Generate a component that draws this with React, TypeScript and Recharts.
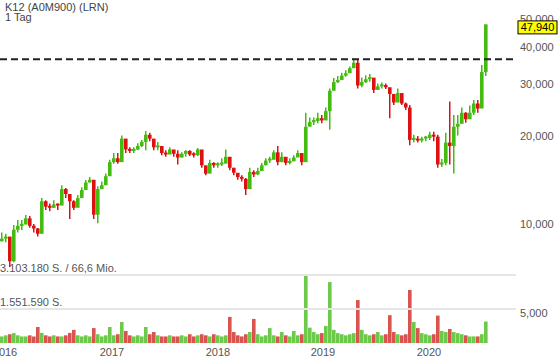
import React from "react";
import { ComposedChart, Bar, Cell, XAxis, YAxis, ReferenceLine } from "recharts";

// roughly two-week periods, Dec 2015 - Jul 2020
const highs = [
  9400, 9300, 8860, 9960, 10360, 10360, 10770, 10700, 10050, 9730,
  12300, 12100, 11800, 12100, 11800, 13600, 13300, 12600, 12100, 12600,
  13400, 14170, 14500, 14000, 13500, 14000, 14900, 16600, 17500, 17500,
  20100, 18600, 18300, 18300, 18900, 19400, 20800, 20500, 19400, 19100,
  18200, 17900, 18300, 17900, 17900, 17600, 17900, 17900, 17600, 18200,
  16700, 15700, 16600, 16300, 16300, 16800, 18000, 16600, 15600, 14900,
  14700, 14400, 15600, 15300, 15600, 16200, 16800, 17000, 17900, 18500,
  17600, 16800, 16800, 17200, 17900, 17000, 24000, 23100, 23100, 24000,
  23600, 25000, 29000, 31500, 32000, 32800, 33500, 34500, 36600, 36300,
  31600, 32200, 32500, 31000, 30200, 30400, 30200, 29000, 27600, 29000,
  27000, 26000, 25500, 20200, 20000, 19900, 20000, 20700, 20700, 20200,
  16700, 20500, 26200, 23600, 23600, 25000, 24100, 25400, 26500, 26500,
  34900, 47940,
];
const lows = [
  8750, 8700, 7170, 7450, 9400, 9580, 10100, 9750, 9400, 9100,
  10300, 11200, 11100, 11400, 11200, 12100, 12300, 10450, 11200, 11500,
  12300, 13400, 13900, 10450, 10100, 13400, 13800, 15300, 16100, 16100,
  17900, 17500, 17500, 17500, 17900, 18300, 17900, 19200, 17900, 17900,
  17200, 17000, 17500, 17000, 16000, 16900, 17000, 17100, 16900, 17100,
  15600, 14700, 15800, 15600, 15600, 15800, 16200, 15300, 14700, 14200,
  14000, 12600, 13500, 14500, 14700, 15600, 15900, 16200, 17200, 15900,
  16600, 15900, 16000, 16600, 17200, 15900, 16600, 21800, 21800, 22100,
  22100, 23100, 21000, 29800, 30300, 31500, 31800, 32800, 34500, 29000,
  29300, 30300, 30600, 28000, 28700, 29000, 28900, 23000, 25500, 26500,
  25500, 24500, 18600, 19000, 19000, 19000, 19200, 19400, 19200, 15600,
  15700, 15900, 16000, 14900, 20100, 22200, 22200, 23000, 23600, 24000,
  25500, 32000,
];
const closes = [
  8950, 9100, 7500, 9600, 9900, 10000, 10500, 9900, 9700, 9300,
  12000, 11500, 11400, 11700, 11600, 13200, 12700, 12000, 11400, 12300,
  13100, 13900, 14200, 10800, 13200, 13600, 14600, 16300, 16800, 16300,
  19600, 18000, 17800, 18000, 18500, 19100, 20200, 19600, 18300, 18500,
  17500, 17300, 18000, 17400, 16900, 17400, 17800, 17300, 17200, 18000,
  15900, 14900, 16200, 15900, 16000, 16100, 17000, 15600, 15000, 14500,
  14300, 13200, 15100, 14800, 15200, 15900, 16500, 16600, 17600, 16300,
  17000, 16200, 16400, 16900, 17500, 16300, 21500, 22300, 22500, 23000,
  22600, 24300, 28500, 30500, 31000, 32100, 32700, 34000, 35500, 29700,
  30500, 31200, 31600, 28700, 29500, 29800, 29300, 27800, 26000, 28000,
  25800, 25000, 19400, 19500, 19300, 19600, 19700, 20200, 19900, 16000,
  16200, 19000, 18500, 21500, 22000, 24000, 22800, 24000, 25800, 24800,
  33000, 47940,
];
// thousand shares
const volumes = [
  300, 350, 400, 450, 350, 300, 300, 350, 300, 730,
  460, 350, 300, 350, 300, 300, 350, 460, 600, 350,
  300, 350, 300, 680, 400, 300, 350, 730, 350, 400,
  960, 550, 350, 300, 350, 300, 730, 400, 500, 350,
  300, 300, 350, 300, 300, 350, 300, 400, 300, 350,
  400, 350, 300, 400, 350, 300, 350, 1190, 500, 350,
  300, 400, 500, 1100, 400, 300, 350, 680, 350, 300,
  500, 350, 300, 550, 350, 400, 3103, 700, 500, 400,
  450, 780, 2780, 600, 450, 400, 350, 400, 450, 1960,
  600, 400, 350, 400, 500, 350, 400, 1270, 500, 400,
  350, 400, 2420, 960, 680, 450, 400, 350, 400, 1250,
  550, 500, 640, 500, 450, 400, 350, 300, 300, 300,
  400, 980,
];

const years = ["2016", "2017", "2018", "2019", "2020"];
const yearPos = [0.75, 27.5, 54, 80.25, 106.75];
const priceTicks = [5000, 10000, 20000, 30000, 40000, 50000];
const lastPrice = 47940;
const resistance = 36460;
const volLines = [3103180, 1551590];
const volLabels = ["3.103.180 S. / 66,6 Mio.", "1.551.590 S."];

const UP = "#44bb11";
const DOWN = "#dd1111";
const VOL_UP = "#6cc94a";
const VOL_DOWN = "#d9534f";
const FONT = "'Liberation Sans', Arial, sans-serif";
const X_DOMAIN = [-0.5, 128.5];
const P_DOMAIN = [3955, 58022];

const data = closes.map((c, i) => {
  const open = i === 0 ? c * 0.98 : closes[i - 1];
  return {
    i,
    wick: [lows[i], highs[i]],
    body: [Math.min(open, c), Math.max(open, c)],
    vol: volumes[i] * 1000,
    up: c >= open,
  };
});

const fmt = (v: number) => v.toLocaleString("en-US");

const PriceTag = (props: any) => {
  const { viewBox } = props;
  const x = viewBox.x + viewBox.width + 2;
  const y = viewBox.y;
  return (
    <g>
      <rect x={x} y={y - 3.5} width={39} height={13} fill="#ffff00" stroke="#000" />
      <text x={x + 19.5} y={y + 7} textAnchor="middle" fontSize={11} fontFamily={FONT} fill="#000">
        {fmt(lastPrice)}
      </text>
    </g>
  );
};

const VolLabel = (props: any) => (
  <text x={0} y={props.viewBox.y - 3} fontSize={11} fontFamily={FONT} fill="#555">
    {props.text}
  </text>
);

const layer: React.CSSProperties = { position: "absolute", left: 0, top: 0 };
const inner = { top: 0, right: 44, bottom: 20, left: 0 };

export default function App() {
  return (
    <div style={{ ...layer, width: 560, height: 363, background: "#fff" }}>
      {/* volume */}
      <div style={layer}>
        <ComposedChart width={560} height={363} data={data} margin={inner}>
          <XAxis type="number" dataKey="i" domain={X_DOMAIN} allowDataOverflow hide />
          <YAxis yAxisId="vol" domain={[0, 15652800]} allowDataOverflow hide />
          {volLines.map((v, k) => (
            <ReferenceLine
              key={v}
              yAxisId="vol"
              y={v}
              stroke="#e6e6e6"
              strokeWidth={2}
              label={<VolLabel text={volLabels[k]} />}
            />
          ))}
          <Bar yAxisId="vol" dataKey="vol" barSize={4} isAnimationActive={false}>
            {data.map((d) => (
              <Cell key={d.i} fill={d.up ? VOL_UP : VOL_DOWN} />
            ))}
          </Bar>
        </ComposedChart>
      </div>
      {/* axes + wicks */}
      <div style={layer}>
        <ComposedChart width={560} height={363} data={data} margin={{ top: 0, right: 0, bottom: 0, left: 0 }}>
          <XAxis
            type="number"
            dataKey="i"
            domain={X_DOMAIN}
            allowDataOverflow
            ticks={yearPos}
            interval={0}
            tickFormatter={(v: number) => years[yearPos.indexOf(v)]}
            axisLine={false}
            tickLine={false}
            tickSize={0}
            tickMargin={5}
            height={20}
            tick={{ fontSize: 11, fill: "#555", fontFamily: FONT }}
          />
          <YAxis
            orientation="right"
            scale="log"
            domain={P_DOMAIN}
            allowDataOverflow
            ticks={priceTicks}
            interval={0}
            tickFormatter={fmt}
            axisLine={false}
            tickLine={false}
            tickSize={0}
            tickMargin={4}
            width={44}
            tick={{ fontSize: 11, fill: "#555", fontFamily: FONT, textAnchor: "start" }}
          />
          <Bar dataKey="wick" barSize={1.5} isAnimationActive={false}>
            {data.map((d) => (
              <Cell key={d.i} fill={d.up ? UP : DOWN} />
            ))}
          </Bar>
        </ComposedChart>
      </div>
      {/* bodies + lines */}
      <div style={layer}>
        <ComposedChart width={560} height={363} data={data} margin={inner}>
          <XAxis type="number" dataKey="i" domain={X_DOMAIN} allowDataOverflow hide />
          <YAxis scale="log" domain={P_DOMAIN} allowDataOverflow hide />
          <Bar dataKey="body" barSize={4} minPointSize={2} isAnimationActive={false}>
            {data.map((d) => (
              <Cell key={d.i} fill={d.up ? UP : DOWN} />
            ))}
          </Bar>
          <ReferenceLine y={resistance} stroke="#222" strokeWidth={2} strokeDasharray="7 4" />
          <ReferenceLine y={lastPrice} stroke="none" label={<PriceTag />} />
        </ComposedChart>
      </div>
      <svg width={200} height={24} style={layer}>
        <text x={5} y={10.6} fontSize={11} fontFamily={FONT} fill="#444">K12 (A0M900) (LRN)</text>
        <text x={5} y={20.6} fontSize={11} fontFamily={FONT} fill="#444">1 Tag</text>
      </svg>
    </div>
  );
}
